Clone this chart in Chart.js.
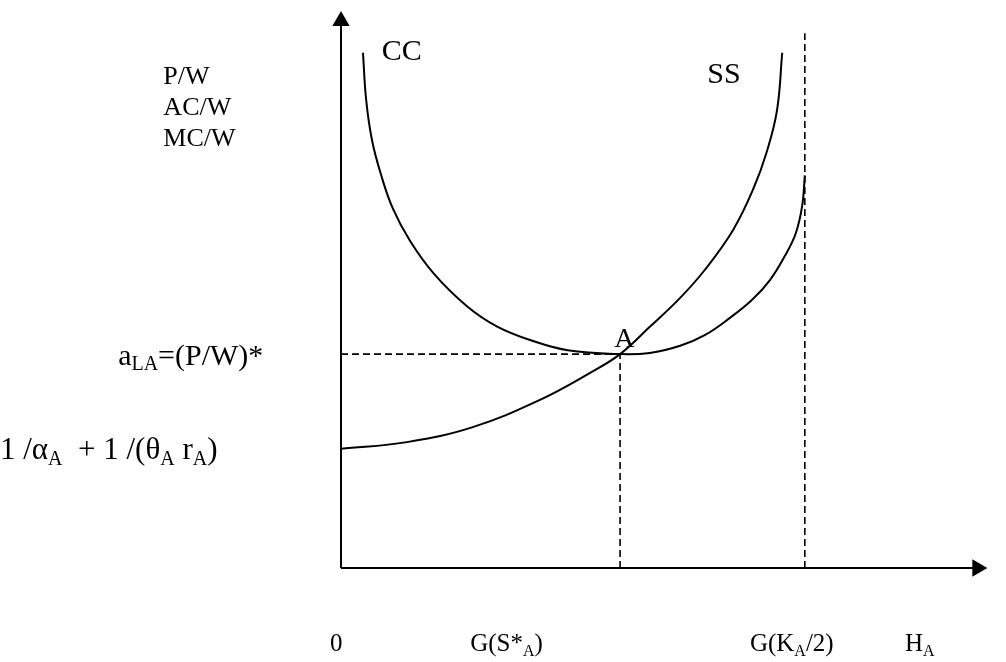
<!DOCTYPE html>
<html>
<head>
<meta charset="utf-8">
<script src="https://cdn.jsdelivr.net/npm/chart.js@4.4.0/dist/chart.umd.min.js"></script>
<style>
  html, body { margin: 0; padding: 0; background: #fff; }
  #wrap { width: 1006px; height: 662px; }
</style>
</head>
<body>
<div id="wrap"><canvas id="chart"></canvas></div>
<script>
// curve values (x = H_A, y = P/W)
const ccX = [3.4, 3.9, 4.8, 6.2, 8.0, 10.7, 14.4, 19.5, 24.1, 29.6, 35.1, 43.2, 47.8, 52.5, 56.3, 60.2, 63.6, 66.4, 68.7, 70.4, 71.4, 71.8];
const ccY = [92.5, 84.0, 76.8, 70.6, 64.6, 58.7, 52.8, 47.0, 43.4, 40.8, 39.1, 38.4, 38.6, 39.9, 41.8, 44.9, 48.1, 51.7, 56.0, 60.1, 65.1, 70.5];

const ssX = [0, 10.2, 20.4, 30.8, 38.5, 43.2, 47.8, 52.5, 56.3, 60.7, 63.8, 65.9, 67.5, 68.3];
const ssY = [21.4, 22.6, 25.3, 30.2, 35.0, 38.4, 43.3, 48.5, 53.5, 60.7, 68.0, 74.7, 82.2, 92.5];

// equilibrium A and the capacity limit K_A/2
const pointA = { x: 43.2, y: 38.4 };
const limitX = 71.8;
const limitTop = 96.0;

const toPts = (xs, ys) => xs.map((x, i) => ({ x: x, y: ys[i] }));

// text labels: parts are [text, isSubscript], size in px
const textLabels = [
  { x: -27.5, y: 86.9, size: 26, parts: [["P/W"]] },
  { x: -27.5, y: 81.3, size: 26, parts: [["AC/W"]] },
  { x: -27.5, y: 75.8, size: 26, parts: [["MC/W"]] },
  { x: 6.3, y: 91.2, size: 30, parts: [["CC"]] },
  { x: 56.7, y: 87.1, size: 30, parts: [["SS"]] },
  { x: 42.3, y: 39.7, size: 28, parts: [["A"]] },
  { x: -34.5, y: 36.4, size: 30, parts: [["a"], ["LA", 1], ["=(P/W)*"]] },
  { x: -52.8, y: 19.6, size: 31, parts: [["1 /\u03b1"], ["A", 1], ["  + 1 /(\u03b8"], ["A", 1], [" r"], ["A", 1], [")"]] },
  { x: -1.7, y: -14.9, size: 25, parts: [["0"]] },
  { x: 20.0, y: -14.9, size: 25, parts: [["G(S*"], ["A", 1], [")"]] },
  { x: 63.3, y: -14.9, size: 25, parts: [["G(K"], ["A", 1], ["/2)"]] },
  { x: 87.3, y: -14.9, size: 25, parts: [["H"], ["A", 1]] }
];

const FONT = '"Liberation Serif", "Times New Roman", serif';

const textPlugin = {
  id: "textLabels",
  afterDatasetsDraw(chart) {
    const ctx = chart.ctx;
    const xs = chart.scales.x, ys = chart.scales.y;
    ctx.save();
    ctx.fillStyle = "#000";
    ctx.textBaseline = "alphabetic";
    ctx.textAlign = "left";
    textLabels.forEach(l => {
      let px = xs.getPixelForValue(l.x);
      const py = ys.getPixelForValue(l.y);
      l.parts.forEach(p => {
        const sub = p[1];
        const sz = sub ? Math.round(l.size * 0.65) : l.size;
        ctx.font = sz + "px " + FONT;
        ctx.fillText(p[0], px, py + (sub ? Math.round(l.size * 0.18) : 0));
        px += ctx.measureText(p[0]).width;
      });
    });
    ctx.restore();
  }
};

const black = "#000";
const dash = [7, 4];

const curve = (label, pts) => ({
  label: label,
  data: pts,
  showLine: true,
  borderColor: black,
  borderWidth: 2,
  pointRadius: 0,
  tension: 0.4,
  clip: false
});

const dashed = (label, pts) => ({
  label: label,
  data: pts,
  showLine: true,
  borderColor: black,
  borderWidth: 1.6,
  borderDash: dash,
  pointRadius: 0,
  clip: false
});

new Chart(document.getElementById("chart"), {
  type: "scatter",
  data: {
    datasets: [
      curve("CC", toPts(ccX, ccY)),
      curve("SS", toPts(ssX, ssY)),
      dashed("(P/W)*", [{ x: 0, y: pointA.y }, { x: pointA.x, y: pointA.y }]),
      dashed("S*", [{ x: pointA.x, y: 0 }, { x: pointA.x, y: pointA.y }]),
      dashed("K/2", [{ x: limitX, y: 0 }, { x: limitX, y: limitTop }]),
      {
        label: "y axis",
        data: [{ x: 0, y: 0 }, { x: 0, y: 98.2 }],
        showLine: true,
        borderColor: black,
        backgroundColor: black,
        borderWidth: 2,
        pointStyle: "triangle",
        pointRadius: [0, 10],
        pointBorderWidth: 0,
        clip: false
      },
      {
        label: "x axis",
        data: [{ x: 0, y: 0 }, { x: 98.5, y: 0 }],
        showLine: true,
        borderColor: black,
        backgroundColor: black,
        borderWidth: 2,
        pointStyle: "triangle",
        pointRotation: 90,
        pointRadius: [0, 10],
        pointBorderWidth: 0,
        clip: false
      }
    ]
  },
  options: {
    responsive: true,
    maintainAspectRatio: false,
    animation: false,
    layout: { padding: { left: 341, right: 19, top: 11, bottom: 94 } },
    plugins: { legend: { display: false }, tooltip: { enabled: false } },
    scales: {
      x: { type: "linear", min: 0, max: 100, display: false },
      y: { type: "linear", min: 0, max: 100, display: false }
    }
  },
  plugins: [textPlugin]
});
</script>
</body>
</html>
